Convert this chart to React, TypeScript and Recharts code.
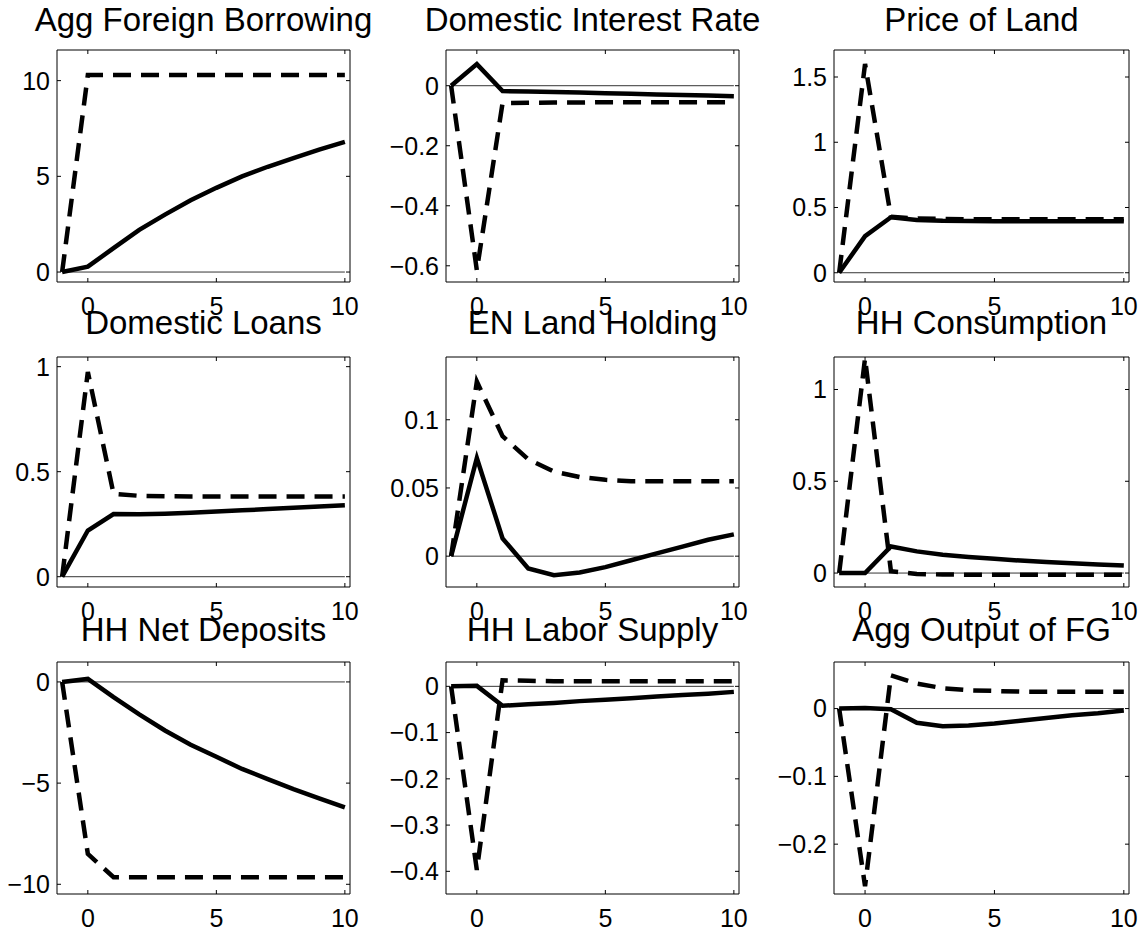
import { LineChart, Line, XAxis, YAxis, ReferenceLine } from 'recharts'

const FONT = '"Liberation Sans", Arial, Helvetica, sans-serif'

// response horizon (periods)
const periods = [-1, 0, 1, 2, 3, 4, 5, 6, 7, 8, 9, 10]
const xTicks = [0, 5, 10]

const titles = [
  'Agg Foreign Borrowing',
  'Domestic Interest Rate',
  'Price of Land',
  'Domestic Loans',
  'EN Land Holding',
  'HH Consumption',
  'HH Net Deposits',
  'HH Labor Supply',
  'Agg Output of FG',
]

// solid = baseline, dashed = alternative
const borrowingSolid = [0, 0.28, 1.25, 2.2, 3.0, 3.75, 4.4, 5.0, 5.5, 5.95, 6.4, 6.8]
const borrowingDashed = [0, 10.3, 10.3, 10.3, 10.3, 10.3, 10.3, 10.3, 10.3, 10.3, 10.3, 10.3]

const rateSolid = [0, 0.072, -0.018, -0.019, -0.021, -0.023, -0.025, -0.027, -0.029, -0.031, -0.033, -0.035]
const rateDashed = [0, -0.615, -0.058, -0.057, -0.056, -0.056, -0.055, -0.055, -0.055, -0.055, -0.055, -0.055]

const landPriceSolid = [0, 0.28, 0.425, 0.405, 0.398, 0.396, 0.395, 0.395, 0.395, 0.395, 0.395, 0.395]
const landPriceDashed = [0, 1.6, 0.43, 0.415, 0.412, 0.41, 0.41, 0.41, 0.41, 0.41, 0.41, 0.41]

const loansSolid = [0, 0.22, 0.298, 0.297, 0.3, 0.305, 0.31, 0.316, 0.322, 0.328, 0.334, 0.34]
const loansDashed = [0, 0.975, 0.395, 0.385, 0.383, 0.382, 0.382, 0.382, 0.382, 0.382, 0.382, 0.382]

const landHoldSolid = [0, 0.072, 0.013, -0.009, -0.014, -0.012, -0.008, -0.003, 0.002, 0.007, 0.012, 0.016]
const landHoldDashed = [0, 0.128, 0.088, 0.071, 0.062, 0.058, 0.056, 0.055, 0.055, 0.055, 0.055, 0.055]

const consSolid = [0, 0, 0.145, 0.118, 0.1, 0.088, 0.078, 0.068, 0.06, 0.053, 0.047, 0.041]
const consDashed = [0, 1.17, 0.01, -0.005, -0.008, -0.009, -0.009, -0.009, -0.009, -0.009, -0.009, -0.009]

const depositsSolid = [0, 0.15, -0.75, -1.6, -2.4, -3.1, -3.7, -4.3, -4.8, -5.3, -5.75, -6.2]
const depositsDashed = [0, -8.5, -9.65, -9.65, -9.65, -9.65, -9.65, -9.65, -9.65, -9.65, -9.65, -9.65]

const laborSolid = [0, 0.001, -0.042, -0.039, -0.036, -0.032, -0.029, -0.026, -0.022, -0.019, -0.016, -0.012]
const laborDashed = [0, -0.397, 0.013, 0.012, 0.011, 0.011, 0.011, 0.011, 0.011, 0.011, 0.011, 0.011]

const outputSolid = [0, 0.001, -0.001, -0.021, -0.026, -0.025, -0.022, -0.018, -0.014, -0.01, -0.007, -0.003]
const outputDashed = [0, -0.262, 0.049, 0.037, 0.03, 0.027, 0.026, 0.025, 0.025, 0.025, 0.025, 0.025]

const yTickSets = [
  [0, 5, 10],
  [-0.6, -0.4, -0.2, 0],
  [0, 0.5, 1, 1.5],
  [0, 0.5, 1],
  [0, 0.05, 0.1],
  [0, 0.5, 1],
  [-10, -5, 0],
  [-0.4, -0.3, -0.2, -0.1, 0],
  [-0.2, -0.1, 0],
]

const yDomains: [number, number][] = [
  [-0.52, 11.6],
  [-0.654, 0.119],
  [-0.071, 1.707],
  [-0.049, 1.046],
  [-0.0226, 0.146],
  [-0.076, 1.177],
  [-10.48, 0.985],
  [-0.449, 0.0526],
  [-0.2735, 0.0687],
]

const solids = [borrowingSolid, rateSolid, landPriceSolid, loansSolid, landHoldSolid, consSolid, depositsSolid, laborSolid, outputSolid]
const dasheds = [borrowingDashed, rateDashed, landPriceDashed, loansDashed, landHoldDashed, consDashed, depositsDashed, laborDashed, outputDashed]

// layout of the axes boxes (px)
const colX = [57, 446, 834]
const colW = [293, 293, 295]
const rowY = [50, 357, 662]
const rowH = [232, 230, 232]
const titleBase = [31, 334, 641]

const X_DOMAIN: [number, number] = [-1.2, 10.2]

const fmt = (v: number) => (v < 0 ? '\u2212' + String(Math.abs(v)) : String(v))
const noLabel = () => ''

const tickStyle = { fontSize: 25, fontFamily: FONT, fill: '#000' }

function Panel({ idx }: { idx: number }) {
  const col = idx % 3
  const row = Math.floor(idx / 3)
  const bx = colX[col]
  const bw = colW[col]
  const by = rowY[row]
  const bh = rowH[row]
  const L = 70
  const T = 10
  const R = 10
  const B = 45
  const data = periods.map((t, i) => ({ t, solid: solids[idx][i], dashed: dasheds[idx][i] }))

  return (
    <>
      <div
        style={{
          position: 'absolute',
          left: bx - 100,
          width: bw + 200,
          top: titleBase[row] - 28,
          textAlign: 'center',
          fontSize: 33,
          lineHeight: '33px',
          fontFamily: FONT,
          whiteSpace: 'nowrap',
          color: '#000',
        }}
      >
        {titles[idx]}
      </div>
      <div style={{ position: 'absolute', left: bx - L, top: by - T }}>
        <LineChart
          width={bw + L + R}
          height={bh + T + B}
          data={data}
          margin={{ top: T - 1, right: R - 1, bottom: 0, left: 0 }}
          style={{ overflow: 'visible' }}
        >
          <XAxis
            xAxisId="bottom"
            dataKey="t"
            type="number"
            domain={X_DOMAIN}
            ticks={xTicks}
            allowDataOverflow
            height={B}
            stroke="#000"
            tickSize={-4}
            tickMargin={19}
            tick={tickStyle}
            interval={0}
          />
          <XAxis
            xAxisId="top"
            orientation="top"
            dataKey="t"
            type="number"
            domain={X_DOMAIN}
            ticks={xTicks}
            allowDataOverflow
            height={1}
            stroke="#000"
            tickSize={-4}
            tickFormatter={noLabel}
            interval={0}
          />
          <YAxis
            yAxisId="left"
            type="number"
            domain={yDomains[idx]}
            ticks={yTickSets[idx]}
            allowDataOverflow
            width={L}
            stroke="#000"
            tickSize={-4}
            tickMargin={11}
            tick={tickStyle}
            tickFormatter={fmt}
            interval={0}
          />
          <YAxis
            yAxisId="right"
            orientation="right"
            type="number"
            domain={yDomains[idx]}
            ticks={yTickSets[idx]}
            allowDataOverflow
            width={1}
            stroke="#000"
            tickSize={-4}
            tickFormatter={noLabel}
            interval={0}
          />
          <ReferenceLine
            xAxisId="bottom"
            yAxisId="left"
            segment={[
              { x: periods[0], y: 0 },
              { x: periods[periods.length - 1], y: 0 },
            ]}
            stroke="#000"
            strokeWidth={0.8}
          />
          <Line
            xAxisId="bottom"
            yAxisId="left"
            type="linear"
            dataKey="solid"
            stroke="#000"
            strokeWidth={4.5}
            dot={false}
            isAnimationActive={false}
          />
          <Line
            xAxisId="top"
            yAxisId="right"
            type="linear"
            dataKey="dashed"
            stroke="#000"
            strokeWidth={4.5}
            strokeDasharray="18 10"
            dot={false}
            isAnimationActive={false}
          />
        </LineChart>
      </div>
    </>
  )
}

export default function App() {
  return (
    <div style={{ position: 'absolute', left: 0, top: 0, width: 1147, height: 931, background: '#fff' }}>
      {titles.map((_, i) => (
        <Panel key={i} idx={i} />
      ))}
    </div>
  )
}
